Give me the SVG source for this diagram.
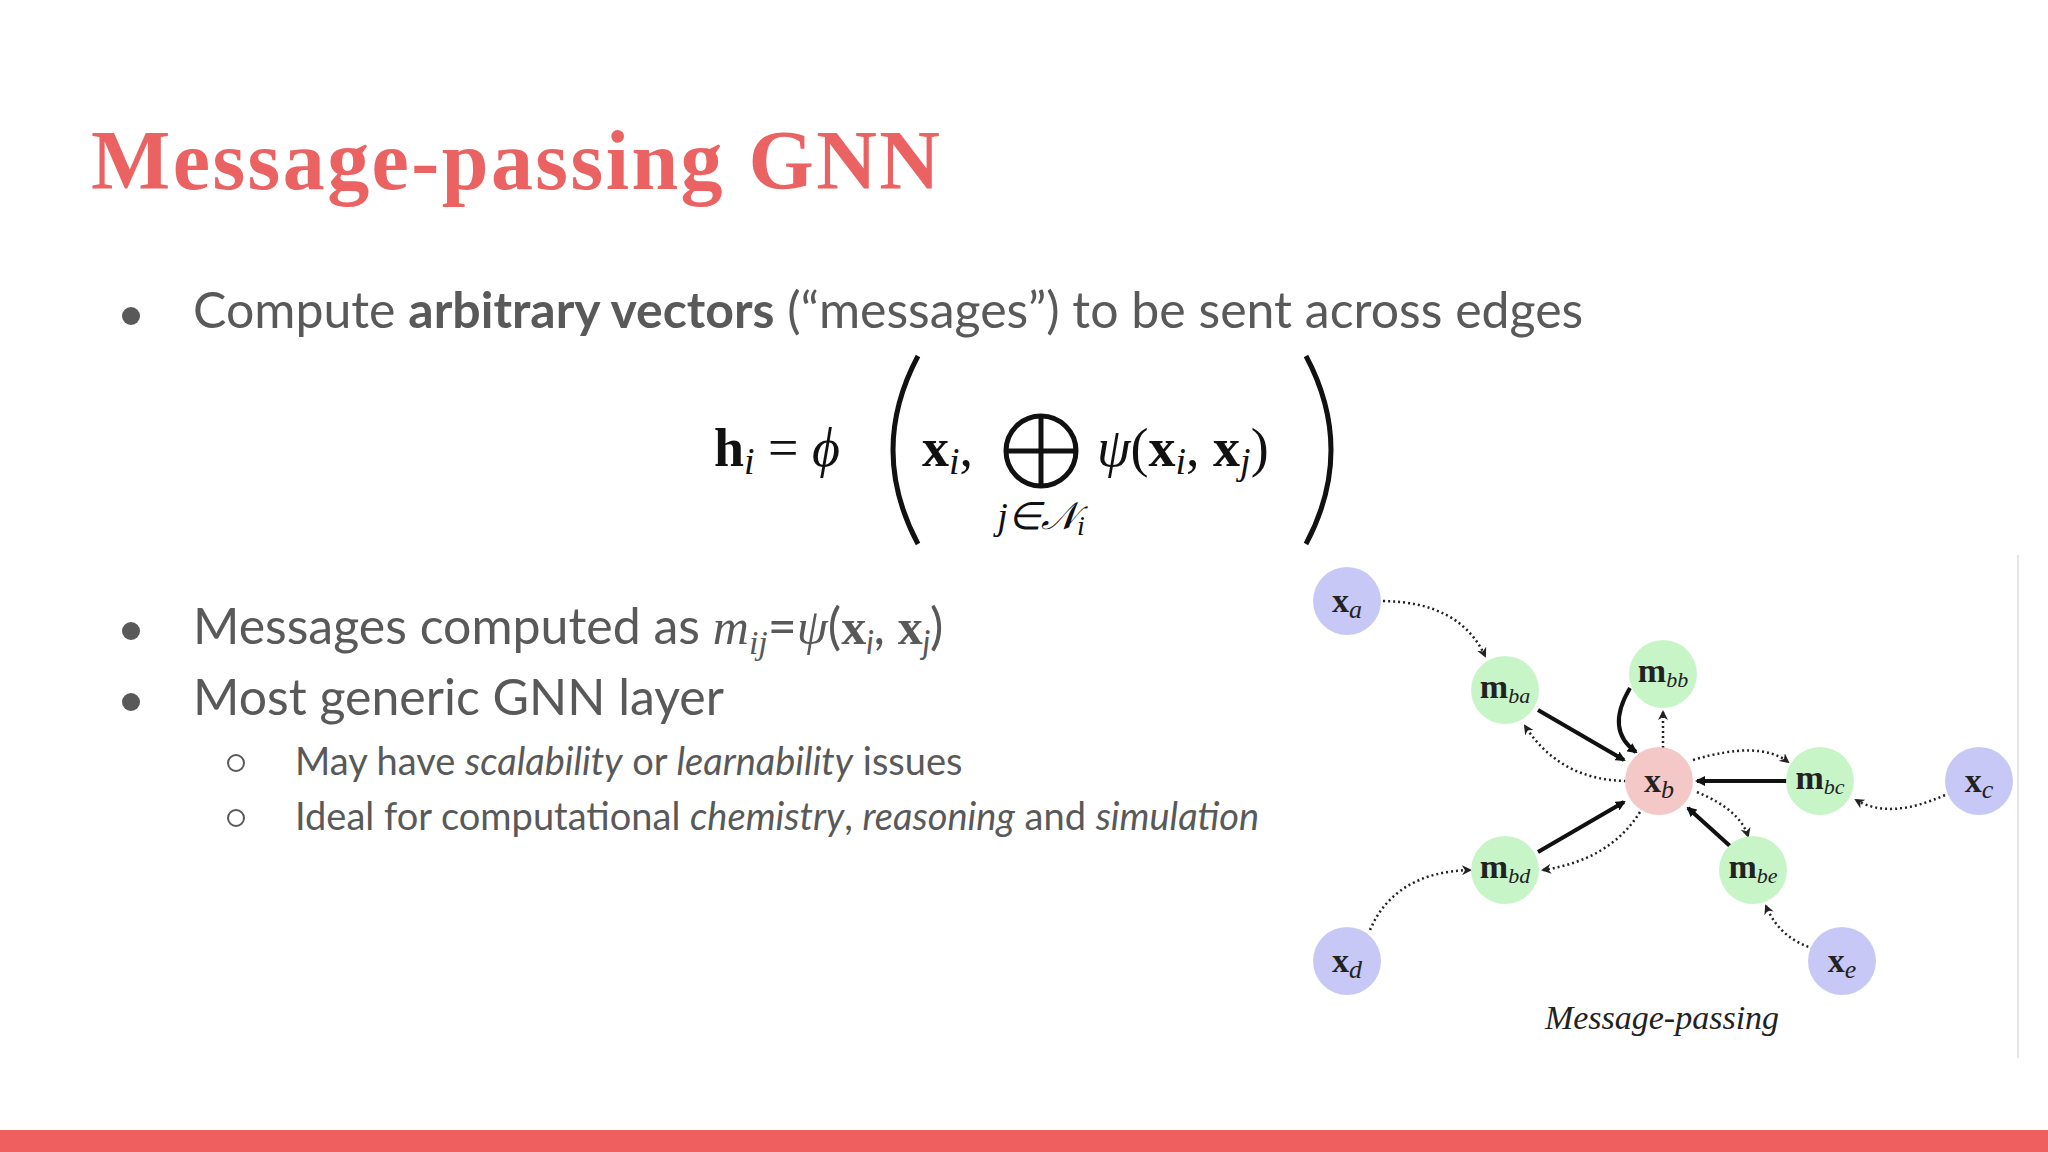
<svg xmlns="http://www.w3.org/2000/svg" width="2048" height="1152" viewBox="0 0 2048 1152">
<style>
.body{font-family:Lato,"Liberation Sans",sans-serif;fill:#595959}
.m{font-family:"Liberation Serif",serif;fill:#111}
.nl{font-family:"Liberation Serif",serif;fill:#222;font-size:34px;text-anchor:middle}
.sol{stroke:#111;stroke-width:4;fill:none;marker-end:url(#ah)}
.dot{stroke:#222;stroke-width:2.5;stroke-dasharray:2 3;fill:none;marker-end:url(#ah2)}
</style>
<defs>
<marker id="ah" markerWidth="10" markerHeight="10" refX="8" refY="5" orient="auto" markerUnits="userSpaceOnUse" viewBox="0 0 10 10"><path d="M0,0 L10,5 L0,10 z" fill="#111"/></marker>
<marker id="ah2" markerWidth="10" markerHeight="10" refX="8" refY="5" orient="auto" markerUnits="userSpaceOnUse" viewBox="0 0 10 10"><path d="M0,0 L10,5 L0,10 L3,5 z" fill="#222"/></marker>
</defs>
<rect width="2048" height="1152" fill="#fff"/>
<rect x="0" y="1130" width="2048" height="22" fill="#f05f5f"/>
<line x1="2018" y1="555" x2="2018" y2="1058" stroke="#e6e6e6" stroke-width="2"/>
<text x="91" y="189" font-family="Liberation Serif,serif" font-weight="bold" font-size="84" fill="#ea6262" textLength="849">Message-passing GNN</text>
<g class="body">
<circle cx="131" cy="316" r="9"/>
<text x="193" y="328" font-size="50">Compute <tspan font-weight="bold">arbitrary vectors</tspan> (“messages”) to be sent across edges</text>
<circle cx="131" cy="631" r="9"/>
<text x="193" y="644" font-size="50">Messages computed as <tspan font-style="italic" font-family="Liberation Serif,serif">m</tspan><tspan font-style="italic" font-family="Liberation Serif,serif" font-size="34" dy="10">ij</tspan><tspan dy="-10">=</tspan><tspan font-style="italic" font-family="Liberation Serif,serif">ψ</tspan>(<tspan font-weight="bold" font-family="Liberation Serif,serif">x</tspan><tspan font-style="italic" font-size="32" dy="10">i</tspan><tspan dy="-10">, </tspan><tspan font-weight="bold" font-family="Liberation Serif,serif">x</tspan><tspan font-style="italic" font-size="32" dy="10">j</tspan><tspan dy="-10">)</tspan></text>
<circle cx="131" cy="702" r="9"/>
<text x="193" y="715" font-size="50">Most generic GNN layer</text>
<circle cx="236" cy="763" r="8" fill="none" stroke="#595959" stroke-width="2"/>
<text x="295" y="775" font-size="38">May have <tspan font-style="italic">scalability</tspan> or <tspan font-style="italic">learnability</tspan> issues</text>
<circle cx="236" cy="818" r="8" fill="none" stroke="#595959" stroke-width="2"/>
<text x="295" y="830" font-size="38">Ideal for computational <tspan font-style="italic">chemistry</tspan>, <tspan font-style="italic">reasoning</tspan> and <tspan font-style="italic">simulation</tspan></text>
</g>
<g id="formula">
<text class="m" x="714" y="466" font-size="54"><tspan font-weight="bold">h</tspan><tspan font-style="italic" font-size="38" dy="8">i</tspan><tspan dy="-8"> = </tspan><tspan font-style="italic">ϕ</tspan></text>
<path d="M918,356 Q868,450 918,544" stroke="#111" stroke-width="5" fill="none"/>
<text class="m" x="922" y="466" font-size="54"><tspan font-weight="bold">x</tspan><tspan font-style="italic" font-size="38" dy="8">i</tspan><tspan dy="-8">,</tspan></text>
<circle cx="1041" cy="451" r="35" fill="none" stroke="#111" stroke-width="5"/>
<line x1="1006" y1="451" x2="1076" y2="451" stroke="#111" stroke-width="5"/>
<line x1="1041" y1="416" x2="1041" y2="486" stroke="#111" stroke-width="5"/>
<text class="m" x="1041" y="529" font-size="38" text-anchor="middle" font-style="italic">j∈𝒩<tspan font-size="28" dy="6">i</tspan></text>
<text class="m" x="1097" y="466" font-size="54"><tspan font-style="italic">ψ</tspan>(<tspan font-weight="bold">x</tspan><tspan font-style="italic" font-size="38" dy="8">i</tspan><tspan dy="-8">, </tspan><tspan font-weight="bold">x</tspan><tspan font-style="italic" font-size="38" dy="8">j</tspan><tspan dy="-8">)</tspan></text>
<path d="M1306,356 Q1356,450 1306,544" stroke="#111" stroke-width="5" fill="none"/>
</g>
<g id="edges">
<path class="sol" d="M1538,710 L1624,760"/>
<path class="sol" d="M1538,852 L1624,802"/>
<path class="sol" d="M1787,781 L1697,781"/>
<path class="sol" d="M1730,846 L1688,808"/>
<path class="sol" d="M1630,688 Q1605,730 1636,752"/>
<path class="dot" d="M1383,601 Q1460,602 1485,656"/>
<path class="dot" d="M1626,781 Q1560,780 1525,726"/>
<path class="dot" d="M1663,748 L1663,712"/>
<path class="dot" d="M1693,760 Q1760,740 1788,762"/>
<path class="dot" d="M1945,795 Q1890,820 1856,800"/>
<path class="dot" d="M1640,812 Q1610,860 1543,870"/>
<path class="dot" d="M1370,930 Q1395,872 1470,870"/>
<path class="dot" d="M1697,792 Q1740,810 1748,836"/>
<path class="dot" d="M1818,950 Q1780,940 1766,906"/>
</g>
<g id="xa"><circle cx="1347" cy="601" r="34" fill="#c8c8f6"/><text class="nl" x="1347" y="612"><tspan font-weight="bold">x</tspan><tspan font-style="italic" font-size="26" dy="6">a</tspan></text></g>
<g id="mba"><circle cx="1505" cy="690" r="34" fill="#c8f5c8"/><text class="nl" x="1505" y="698" font-size="30"><tspan font-weight="bold">m</tspan><tspan font-style="italic" font-size="22" dy="5">ba</tspan></text></g>
<g id="mbb"><circle cx="1663" cy="674" r="34" fill="#c8f5c8"/><text class="nl" x="1663" y="682" font-size="30"><tspan font-weight="bold">m</tspan><tspan font-style="italic" font-size="22" dy="5">bb</tspan></text></g>
<g id="xb"><circle cx="1659" cy="781" r="34" fill="#f5c8c8"/><text class="nl" x="1659" y="792"><tspan font-weight="bold">x</tspan><tspan font-style="italic" font-size="26" dy="6">b</tspan></text></g>
<g id="mbc"><circle cx="1820" cy="781" r="34" fill="#c8f5c8"/><text class="nl" x="1820" y="789" font-size="30"><tspan font-weight="bold">m</tspan><tspan font-style="italic" font-size="22" dy="5">bc</tspan></text></g>
<g id="xc"><circle cx="1979" cy="781" r="34" fill="#c8c8f6"/><text class="nl" x="1979" y="792"><tspan font-weight="bold">x</tspan><tspan font-style="italic" font-size="26" dy="6">c</tspan></text></g>
<g id="mbd"><circle cx="1505" cy="870" r="34" fill="#c8f5c8"/><text class="nl" x="1505" y="878" font-size="30"><tspan font-weight="bold">m</tspan><tspan font-style="italic" font-size="22" dy="5">bd</tspan></text></g>
<g id="mbe"><circle cx="1753" cy="870" r="34" fill="#c8f5c8"/><text class="nl" x="1753" y="878" font-size="30"><tspan font-weight="bold">m</tspan><tspan font-style="italic" font-size="22" dy="5">be</tspan></text></g>
<g id="xd"><circle cx="1347" cy="961" r="34" fill="#c8c8f6"/><text class="nl" x="1347" y="972"><tspan font-weight="bold">x</tspan><tspan font-style="italic" font-size="26" dy="6">d</tspan></text></g>
<g id="xe"><circle cx="1842" cy="961" r="34" fill="#c8c8f6"/><text class="nl" x="1842" y="972"><tspan font-weight="bold">x</tspan><tspan font-style="italic" font-size="26" dy="6">e</tspan></text></g>
<text x="1662" y="1029" font-family="Liberation Serif,serif" font-style="italic" font-size="34" fill="#222" text-anchor="middle">Message-passing</text>
</svg>
